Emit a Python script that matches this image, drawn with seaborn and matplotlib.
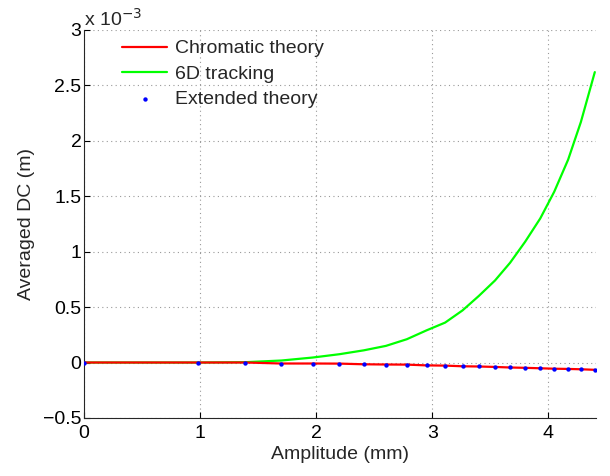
import numpy as np
import pandas as pd
import seaborn as sns
import matplotlib
matplotlib.use("Agg")
import matplotlib.pyplot as plt

# Amplitude sample points (mm)
amplitude = [0.0, 0.98, 1.39, 1.70, 1.97, 2.20, 2.41, 2.60, 2.78, 2.95, 3.11,
             3.26, 3.40, 3.54, 3.67, 3.80, 3.93, 4.05, 4.17, 4.28, 4.40]

# Averaged DC, in units of 1e-3 m
chromatic = [0.0, 0.0, 0.0, -0.009, -0.009, -0.010, -0.016, -0.018, -0.019, -0.026, -0.028,
             -0.034, -0.036, -0.040, -0.045, -0.048, -0.052, -0.056, -0.058, -0.061, -0.066]
tracking = [0.0, 0.0, 0.003, 0.018, 0.045, 0.075, 0.11, 0.15, 0.21, 0.29, 0.36,
            0.47, 0.60, 0.74, 0.90, 1.09, 1.30, 1.54, 1.83, 2.17, 2.62]
extended = chromatic

yticks = [-0.5, 0, 0.5, 1, 1.5, 2, 2.5, 3]
ytick_labels = ["\u22120.5", "0", "0.5", "1", "1.5", "2", "2.5", "3"]
xticks = [0, 1, 2, 3, 4]

df = pd.DataFrame({"amp": amplitude, "chrom": chromatic,
                   "track": tracking, "ext": extended})

sns.set_style("ticks")
plt.rcParams["font.family"] = ["Liberation Sans", "DejaVu Sans"]
plt.rcParams["font.size"] = 14

fig, ax = plt.subplots(figsize=(6.1, 4.76), dpi=100)
fig.subplots_adjust(left=0.138, right=0.977, top=0.937, bottom=0.122)

sns.lineplot(data=df, x="amp", y="chrom", color="#ff0000", linewidth=1.6,
             label="Chromatic theory", ax=ax, zorder=3)
sns.lineplot(data=df, x="amp", y="track", color="#00ff00", linewidth=1.6,
             label="6D tracking", ax=ax, zorder=2)
sns.scatterplot(data=df, x="amp", y="ext", color="#0000ff", s=10, linewidth=0,
                label="Extended theory", ax=ax, zorder=4)

ax.set_xlim(0, 4.41)
ax.set_ylim(-0.5, 3)
ax.set_xticks(xticks)
ax.set_yticks(yticks)
ax.set_yticklabels(ytick_labels)
ax.tick_params(direction="in", length=4, labelsize=14, colors="black")
ax.tick_params(axis="y", pad=2)
ax.tick_params(axis="x", pad=5)
ax.grid(True, linestyle=(0, (1, 3)), color="#999999", linewidth=0.8)
ax.set_axisbelow(True)
sns.despine(ax=ax)
ax.spines["left"].set_linewidth(0.8)
ax.spines["bottom"].set_linewidth(0.8)

ax.set_xlabel("Amplitude (mm)", fontsize=14, labelpad=3)
ax.set_ylabel("Averaged DC (m)", fontsize=14, labelpad=6)
ax.text(0.0, 1.0, "x 10$^{-3}$", transform=ax.transAxes, fontsize=14,
        ha="left", va="bottom")

ax.legend(loc="upper left", frameon=False, fontsize=14, handlelength=2.3,
          handletextpad=0.4, labelspacing=0.4, bbox_to_anchor=(0.04, 1.02),
          markerscale=1.0)

fig.savefig("out.png", dpi=100)
